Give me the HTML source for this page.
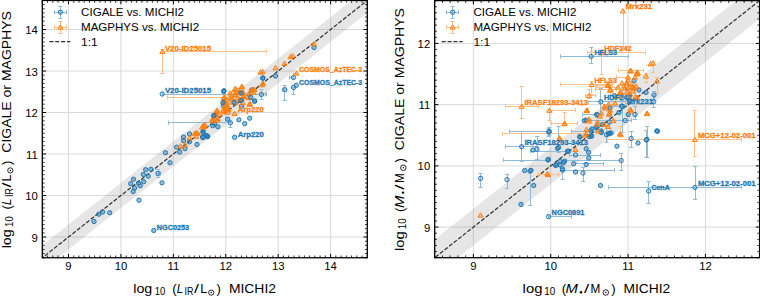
<!DOCTYPE html><html><head><meta charset="utf-8"><style>
html,body{margin:0;padding:0;background:#fff;width:760px;height:300px;overflow:hidden}
svg{display:block;font-family:"Liberation Sans",sans-serif}
.tl{font-size:11.3px;fill:#000}
.lg{font-size:11.6px;fill:#000}
.lab{font-size:7px;font-weight:bold}
.ax{font-size:13.2px;fill:#000}
</style></head><body>
<svg width="760" height="300" viewBox="0 0 760 300">
<clipPath id="cl"><rect x="42.3" y="0.45" width="325" height="257.3"/></clipPath>
<path d="M68.51 0.45V257.75M120.93 0.45V257.75M173.35 0.45V257.75M225.77 0.45V257.75M278.19 0.45V257.75M330.61 0.45V257.75M42.3 237H367.3M42.3 195.5H367.3M42.3 154H367.3M42.3 112.5H367.3M42.3 71H367.3M42.3 29.5H367.3" stroke="#dadada" stroke-width="1" fill="none"/>
<g clip-path="url(#cl)"><path d="M-10.12 286.8 L419.72 -53.5 L419.72 -28.6 L-10.12 311.7Z" fill="#808080" fill-opacity="0.2"/>
<path d="M-10.12 299.25L419.72 -41.05" stroke="#333" stroke-width="1.25" stroke-dasharray="4.1 1.75" fill="none"/></g>
<clipPath id="cr"><rect x="434.7" y="0.6" width="324.9" height="257.1"/></clipPath>
<path d="M473.38 0.6V257.7M550.74 0.6V257.7M628.09 0.6V257.7M705.45 0.6V257.7M434.7 227.09H759.6M434.7 165.88H759.6M434.7 104.66H759.6M434.7 43.45H759.6" stroke="#dadada" stroke-width="1" fill="none"/>
<g clip-path="url(#cr)"><path d="M357.34 300.55 L836.96 -78.98 L836.96 -42.25 L357.34 337.28Z" fill="#808080" fill-opacity="0.2"/>
<path d="M357.34 318.91L836.96 -60.61" stroke="#333" stroke-width="1.25" stroke-dasharray="4.1 1.75" fill="none"/></g>
<g clip-path="url(#cl)">
<path d="M156 173.5H160M156.5 171.45v4.1M160.5 171.45v4.1M158.5 169.2V177.8M155.95 169.5h4.1M155.95 177.5h4.1" stroke="#8fbbd9" stroke-width="1" fill="none"/>
<path d="M168.2 122.5H230.4M168.5 120.75v4.1M230.5 120.75v4.1M230.5 122.8V127.2M228.35 122.5h4.1M228.35 127.5h4.1" stroke="#8fbbd9" stroke-width="1" fill="none"/>
<path d="M261.5 94.5H265.7M261.5 92.45v4.1M265.5 92.45v4.1M261.5 89.7V99.5M259.45 89.5h4.1M259.45 99.5h4.1" stroke="#8fbbd9" stroke-width="1" fill="none"/>
<path d="M289.7 77.5H293.5M289.5 75.45v4.1M293.5 75.45v4.1" stroke="#8fbbd9" stroke-width="1" fill="none"/>
<path d="M282.8 89.5H286.8M282.5 87.65v4.1M286.5 87.65v4.1M284.5 85.2V100.2M282.75 85.5h4.1M282.75 100.5h4.1" stroke="#8fbbd9" stroke-width="1" fill="none"/>
<path d="M293.5 87.5V94.2M291.45 87.5h4.1M291.45 94.5h4.1" stroke="#8fbbd9" stroke-width="1" fill="none"/>
<path d="M162.2 94.5H266M162.5 91.95v4.1M266.5 91.95v4.1" stroke="#8fbbd9" stroke-width="1" fill="none"/>
<path d="M167.5 97.5H231.5M167.5 95.45v4.1M231.5 95.45v4.1" stroke="#ffbf86" stroke-width="1" fill="none"/>
<path d="M293 73.5H296.5M293.5 70.95v4.1M296.5 70.95v4.1" stroke="#ffbf86" stroke-width="1" fill="none"/>
<path d="M162.4 51.5H266.2M162.5 49.35v4.1M266.5 49.35v4.1M162.5 49.4V73M160.35 49.5h4.1M160.35 73.5h4.1" stroke="#ffbf86" stroke-width="1" fill="none"/>
<circle cx="94" cy="221.5" r="2.15" fill="rgba(31,119,180,0.45)" stroke="#1f77b4" stroke-width="1.0"/>
<circle cx="98.8" cy="214.2" r="2.15" fill="rgba(31,119,180,0.45)" stroke="#1f77b4" stroke-width="1.0"/>
<circle cx="102.7" cy="212" r="2.15" fill="rgba(31,119,180,0.45)" stroke="#1f77b4" stroke-width="1.0"/>
<circle cx="109.7" cy="212.7" r="2.15" fill="rgba(31,119,180,0.45)" stroke="#1f77b4" stroke-width="1.0"/>
<circle cx="139" cy="200.2" r="2.15" fill="rgba(31,119,180,0.45)" stroke="#1f77b4" stroke-width="1.0"/>
<circle cx="170" cy="162.7" r="2.15" fill="rgba(31,119,180,0.45)" stroke="#1f77b4" stroke-width="1.0"/>
<circle cx="145.7" cy="169.7" r="2.15" fill="rgba(31,119,180,0.45)" stroke="#1f77b4" stroke-width="1.0"/>
<circle cx="150.9" cy="169.3" r="2.15" fill="rgba(31,119,180,0.45)" stroke="#1f77b4" stroke-width="1.0"/>
<circle cx="143.3" cy="174.5" r="2.15" fill="rgba(31,119,180,0.45)" stroke="#1f77b4" stroke-width="1.0"/>
<circle cx="148.2" cy="176.2" r="2.15" fill="rgba(31,119,180,0.45)" stroke="#1f77b4" stroke-width="1.0"/>
<circle cx="158" cy="173.5" r="2.15" fill="rgba(31,119,180,0.18)" stroke="#1f77b4" stroke-width="1.0"/>
<circle cx="133.5" cy="179.2" r="2.15" fill="rgba(31,119,180,0.45)" stroke="#1f77b4" stroke-width="1.0"/>
<circle cx="130.7" cy="183.7" r="2.15" fill="rgba(31,119,180,0.45)" stroke="#1f77b4" stroke-width="1.0"/>
<circle cx="138.5" cy="183.2" r="2.15" fill="rgba(31,119,180,0.45)" stroke="#1f77b4" stroke-width="1.0"/>
<circle cx="143.7" cy="181.7" r="2.15" fill="rgba(31,119,180,0.45)" stroke="#1f77b4" stroke-width="1.0"/>
<circle cx="140.3" cy="185.8" r="2.15" fill="rgba(31,119,180,0.45)" stroke="#1f77b4" stroke-width="1.0"/>
<circle cx="134.7" cy="188" r="2.15" fill="rgba(31,119,180,0.45)" stroke="#1f77b4" stroke-width="1.0"/>
<circle cx="133.2" cy="191.5" r="2.15" fill="rgba(31,119,180,0.45)" stroke="#1f77b4" stroke-width="1.0"/>
<circle cx="162" cy="182.8" r="2.15" fill="rgba(31,119,180,0.45)" stroke="#1f77b4" stroke-width="1.0"/>
<circle cx="165.5" cy="152.7" r="2.15" fill="rgba(31,119,180,0.45)" stroke="#1f77b4" stroke-width="1.0"/>
<circle cx="176.7" cy="147.2" r="2.15" fill="rgba(31,119,180,0.45)" stroke="#1f77b4" stroke-width="1.0"/>
<circle cx="179.7" cy="152" r="2.15" fill="rgba(31,119,180,0.45)" stroke="#1f77b4" stroke-width="1.0"/>
<circle cx="185" cy="148.7" r="2.15" fill="rgba(31,119,180,0.45)" stroke="#1f77b4" stroke-width="1.0"/>
<circle cx="183.5" cy="137" r="2.15" fill="rgba(31,119,180,0.45)" stroke="#1f77b4" stroke-width="1.0"/>
<circle cx="183.5" cy="140.7" r="2.15" fill="rgba(31,119,180,0.45)" stroke="#1f77b4" stroke-width="1.0"/>
<circle cx="189.5" cy="134" r="2.15" fill="rgba(31,119,180,0.45)" stroke="#1f77b4" stroke-width="1.0"/>
<circle cx="189.5" cy="141.8" r="2.15" fill="rgba(31,119,180,0.45)" stroke="#1f77b4" stroke-width="1.0"/>
<circle cx="197" cy="144.5" r="2.15" fill="rgba(31,119,180,0.45)" stroke="#1f77b4" stroke-width="1.0"/>
<circle cx="203" cy="132.5" r="2.15" fill="rgba(31,119,180,0.45)" stroke="#1f77b4" stroke-width="1.0"/>
<circle cx="203" cy="137.7" r="2.15" fill="rgba(31,119,180,0.45)" stroke="#1f77b4" stroke-width="1.0"/>
<circle cx="207.5" cy="136.2" r="2.15" fill="rgba(31,119,180,0.45)" stroke="#1f77b4" stroke-width="1.0"/>
<circle cx="212.7" cy="125.7" r="2.15" fill="rgba(31,119,180,0.45)" stroke="#1f77b4" stroke-width="1.0"/>
<circle cx="203.2" cy="131" r="2.15" fill="rgba(31,119,180,0.45)" stroke="#1f77b4" stroke-width="1.0"/>
<circle cx="206.2" cy="135.5" r="2.15" fill="rgba(31,119,180,0.45)" stroke="#1f77b4" stroke-width="1.0"/>
<circle cx="202.5" cy="137" r="2.15" fill="rgba(31,119,180,0.45)" stroke="#1f77b4" stroke-width="1.0"/>
<circle cx="207.7" cy="136.7" r="2.15" fill="rgba(31,119,180,0.45)" stroke="#1f77b4" stroke-width="1.0"/>
<circle cx="213.7" cy="116" r="2.15" fill="rgba(31,119,180,0.45)" stroke="#1f77b4" stroke-width="1.0"/>
<circle cx="214.5" cy="123.5" r="2.15" fill="rgba(31,119,180,0.45)" stroke="#1f77b4" stroke-width="1.0"/>
<circle cx="217.8" cy="126.8" r="2.15" fill="rgba(31,119,180,0.45)" stroke="#1f77b4" stroke-width="1.0"/>
<circle cx="223.5" cy="105.5" r="2.15" fill="rgba(31,119,180,0.45)" stroke="#1f77b4" stroke-width="1.0"/>
<circle cx="224" cy="90.7" r="2.15" fill="rgba(31,119,180,0.45)" stroke="#1f77b4" stroke-width="1.0"/>
<circle cx="227.6" cy="119.2" r="2.15" fill="rgba(31,119,180,0.45)" stroke="#1f77b4" stroke-width="1.0"/>
<circle cx="230.4" cy="122.8" r="2.15" fill="rgba(31,119,180,0.18)" stroke="#1f77b4" stroke-width="1.0"/>
<circle cx="238.9" cy="119.8" r="2.15" fill="rgba(31,119,180,0.45)" stroke="#1f77b4" stroke-width="1.0"/>
<circle cx="244.7" cy="123.6" r="2.15" fill="rgba(31,119,180,0.45)" stroke="#1f77b4" stroke-width="1.0"/>
<circle cx="249.7" cy="118.2" r="2.15" fill="rgba(31,119,180,0.45)" stroke="#1f77b4" stroke-width="1.0"/>
<circle cx="241.5" cy="106.2" r="2.15" fill="rgba(31,119,180,0.45)" stroke="#1f77b4" stroke-width="1.0"/>
<circle cx="234.6" cy="137.3" r="2.15" fill="rgba(31,119,180,0.45)" stroke="#1f77b4" stroke-width="1.0"/>
<circle cx="251.7" cy="90" r="2.15" fill="rgba(31,119,180,0.45)" stroke="#1f77b4" stroke-width="1.0"/>
<circle cx="261.5" cy="94.5" r="2.15" fill="rgba(31,119,180,0.18)" stroke="#1f77b4" stroke-width="1.0"/>
<circle cx="254.8" cy="101.2" r="2.15" fill="rgba(31,119,180,0.45)" stroke="#1f77b4" stroke-width="1.0"/>
<circle cx="263" cy="78" r="2.15" fill="rgba(31,119,180,0.45)" stroke="#1f77b4" stroke-width="1.0"/>
<circle cx="275.5" cy="76" r="2.15" fill="rgba(31,119,180,0.45)" stroke="#1f77b4" stroke-width="1.0"/>
<circle cx="262.7" cy="78.2" r="2.15" fill="rgba(31,119,180,0.45)" stroke="#1f77b4" stroke-width="1.0"/>
<circle cx="293.5" cy="77.5" r="2.15" fill="rgba(31,119,180,0.18)" stroke="#1f77b4" stroke-width="1.0"/>
<circle cx="284.8" cy="89.7" r="2.15" fill="rgba(31,119,180,0.18)" stroke="#1f77b4" stroke-width="1.0"/>
<circle cx="293.5" cy="87.5" r="2.15" fill="rgba(31,119,180,0.18)" stroke="#1f77b4" stroke-width="1.0"/>
<circle cx="296.2" cy="85.3" r="2.15" fill="rgba(31,119,180,0.45)" stroke="#1f77b4" stroke-width="1.0"/>
<circle cx="254.5" cy="101" r="2.15" fill="rgba(31,119,180,0.45)" stroke="#1f77b4" stroke-width="1.0"/>
<circle cx="314" cy="47.5" r="2.15" fill="rgba(31,119,180,0.45)" stroke="#1f77b4" stroke-width="1.0"/>
<circle cx="162.2" cy="94" r="2.15" fill="rgba(31,119,180,0.18)" stroke="#1f77b4" stroke-width="1.0"/>
<circle cx="153.8" cy="230.5" r="2.15" fill="rgba(31,119,180,0.45)" stroke="#1f77b4" stroke-width="1.0"/>
<path d="M180.5 143.8L183.05 148.1L177.95 148.1Z" fill="rgba(255,127,14,0.4)" stroke="#ff7f0e" stroke-width="1.0" stroke-linejoin="round"/>
<path d="M185 142.3L187.55 146.6L182.45 146.6Z" fill="rgba(255,127,14,0.4)" stroke="#ff7f0e" stroke-width="1.0" stroke-linejoin="round"/>
<path d="M189.5 135.5L192.05 139.8L186.95 139.8Z" fill="rgba(255,127,14,0.4)" stroke="#ff7f0e" stroke-width="1.0" stroke-linejoin="round"/>
<path d="M194.7 131L197.25 135.3L192.15 135.3Z" fill="rgba(255,127,14,0.4)" stroke="#ff7f0e" stroke-width="1.0" stroke-linejoin="round"/>
<path d="M197.7 131L200.25 135.3L195.15 135.3Z" fill="rgba(255,127,14,0.4)" stroke="#ff7f0e" stroke-width="1.0" stroke-linejoin="round"/>
<path d="M196.2 134L198.75 138.3L193.65 138.3Z" fill="rgba(255,127,14,0.4)" stroke="#ff7f0e" stroke-width="1.0" stroke-linejoin="round"/>
<path d="M204.5 124.3L207.05 128.6L201.95 128.6Z" fill="rgba(255,127,14,0.4)" stroke="#ff7f0e" stroke-width="1.0" stroke-linejoin="round"/>
<path d="M196.5 130.3L199.05 134.6L193.95 134.6Z" fill="rgba(255,127,14,0.4)" stroke="#ff7f0e" stroke-width="1.0" stroke-linejoin="round"/>
<path d="M203.6 123L206.15 127.3L201.05 127.3Z" fill="rgba(255,127,14,0.4)" stroke="#ff7f0e" stroke-width="1.0" stroke-linejoin="round"/>
<path d="M212.8 118.6L215.35 122.9L210.25 122.9Z" fill="rgba(255,127,14,0.4)" stroke="#ff7f0e" stroke-width="1.0" stroke-linejoin="round"/>
<path d="M217.2 117.8L219.75 122.1L214.65 122.1Z" fill="rgba(255,127,14,0.4)" stroke="#ff7f0e" stroke-width="1.0" stroke-linejoin="round"/>
<path d="M216 112.3L218.55 116.6L213.45 116.6Z" fill="rgba(255,127,14,0.4)" stroke="#ff7f0e" stroke-width="1.0" stroke-linejoin="round"/>
<path d="M217.2 109L219.75 113.3L214.65 113.3Z" fill="rgba(255,127,14,0.4)" stroke="#ff7f0e" stroke-width="1.0" stroke-linejoin="round"/>
<path d="M224.2 109.3L226.75 113.6L221.65 113.6Z" fill="rgba(255,127,14,0.4)" stroke="#ff7f0e" stroke-width="1.0" stroke-linejoin="round"/>
<path d="M228 109.8L230.55 114.1L225.45 114.1Z" fill="rgba(255,127,14,0.4)" stroke="#ff7f0e" stroke-width="1.0" stroke-linejoin="round"/>
<path d="M225.7 106.3L228.25 110.6L223.15 110.6Z" fill="rgba(255,127,14,0.4)" stroke="#ff7f0e" stroke-width="1.0" stroke-linejoin="round"/>
<path d="M228.7 107L231.25 111.3L226.15 111.3Z" fill="rgba(255,127,14,0.4)" stroke="#ff7f0e" stroke-width="1.0" stroke-linejoin="round"/>
<path d="M223.5 99.5L226.05 103.8L220.95 103.8Z" fill="rgba(255,127,14,0.4)" stroke="#ff7f0e" stroke-width="1.0" stroke-linejoin="round"/>
<path d="M225.5 102L228.05 106.3L222.95 106.3Z" fill="rgba(255,127,14,0.4)" stroke="#ff7f0e" stroke-width="1.0" stroke-linejoin="round"/>
<path d="M227 105L229.55 109.3L224.45 109.3Z" fill="rgba(255,127,14,0.4)" stroke="#ff7f0e" stroke-width="1.0" stroke-linejoin="round"/>
<path d="M225 97.3L227.55 101.6L222.45 101.6Z" fill="rgba(255,127,14,0.4)" stroke="#ff7f0e" stroke-width="1.0" stroke-linejoin="round"/>
<path d="M224 95.3L226.55 99.6L221.45 99.6Z" fill="rgba(255,127,14,0.4)" stroke="#ff7f0e" stroke-width="1.0" stroke-linejoin="round"/>
<path d="M231.5 95.3L234.05 99.6L228.95 99.6Z" fill="rgba(255,127,14,0.18)" stroke="#ff7f0e" stroke-width="1.0" stroke-linejoin="round"/>
<path d="M236 92.3L238.55 96.6L233.45 96.6Z" fill="rgba(255,127,14,0.4)" stroke="#ff7f0e" stroke-width="1.0" stroke-linejoin="round"/>
<path d="M235.2 86.3L237.75 90.6L232.65 90.6Z" fill="rgba(255,127,14,0.4)" stroke="#ff7f0e" stroke-width="1.0" stroke-linejoin="round"/>
<path d="M242 84L244.55 88.3L239.45 88.3Z" fill="rgba(255,127,14,0.4)" stroke="#ff7f0e" stroke-width="1.0" stroke-linejoin="round"/>
<path d="M242 90.8L244.55 95.1L239.45 95.1Z" fill="rgba(255,127,14,0.4)" stroke="#ff7f0e" stroke-width="1.0" stroke-linejoin="round"/>
<path d="M239.7 96.8L242.25 101.1L237.15 101.1Z" fill="rgba(255,127,14,0.4)" stroke="#ff7f0e" stroke-width="1.0" stroke-linejoin="round"/>
<path d="M243.7 94.3L246.25 98.6L241.15 98.6Z" fill="rgba(255,127,14,0.4)" stroke="#ff7f0e" stroke-width="1.0" stroke-linejoin="round"/>
<path d="M248.7 91.5L251.25 95.8L246.15 95.8Z" fill="rgba(255,127,14,0.4)" stroke="#ff7f0e" stroke-width="1.0" stroke-linejoin="round"/>
<path d="M253.2 87L255.75 91.3L250.65 91.3Z" fill="rgba(255,127,14,0.4)" stroke="#ff7f0e" stroke-width="1.0" stroke-linejoin="round"/>
<path d="M235.2 100.5L237.75 104.8L232.65 104.8Z" fill="rgba(255,127,14,0.4)" stroke="#ff7f0e" stroke-width="1.0" stroke-linejoin="round"/>
<path d="M242.7 100.5L245.25 104.8L240.15 104.8Z" fill="rgba(255,127,14,0.4)" stroke="#ff7f0e" stroke-width="1.0" stroke-linejoin="round"/>
<path d="M249.5 102L252.05 106.3L246.95 106.3Z" fill="rgba(255,127,14,0.4)" stroke="#ff7f0e" stroke-width="1.0" stroke-linejoin="round"/>
<path d="M234.6 111.1L237.15 115.4L232.05 115.4Z" fill="rgba(255,127,14,0.4)" stroke="#ff7f0e" stroke-width="1.0" stroke-linejoin="round"/>
<path d="M263 81L265.55 85.3L260.45 85.3Z" fill="rgba(255,127,14,0.4)" stroke="#ff7f0e" stroke-width="1.0" stroke-linejoin="round"/>
<path d="M251.5 88.3L254.05 92.6L248.95 92.6Z" fill="rgba(255,127,14,0.4)" stroke="#ff7f0e" stroke-width="1.0" stroke-linejoin="round"/>
<path d="M212.2 117.5L214.75 121.8L209.65 121.8Z" fill="rgba(255,127,14,0.4)" stroke="#ff7f0e" stroke-width="1.0" stroke-linejoin="round"/>
<path d="M262.7 69.3L265.25 73.6L260.15 73.6Z" fill="rgba(255,127,14,0.4)" stroke="#ff7f0e" stroke-width="1.0" stroke-linejoin="round"/>
<path d="M260.5 69.8L263.05 74.1L257.95 74.1Z" fill="rgba(255,127,14,0.4)" stroke="#ff7f0e" stroke-width="1.0" stroke-linejoin="round"/>
<path d="M275.5 65.5L278.05 69.8L272.95 69.8Z" fill="rgba(255,127,14,0.4)" stroke="#ff7f0e" stroke-width="1.0" stroke-linejoin="round"/>
<path d="M284.5 61L287.05 65.3L281.95 65.3Z" fill="rgba(255,127,14,0.4)" stroke="#ff7f0e" stroke-width="1.0" stroke-linejoin="round"/>
<path d="M292.7 53.5L295.25 57.8L290.15 57.8Z" fill="rgba(255,127,14,0.4)" stroke="#ff7f0e" stroke-width="1.0" stroke-linejoin="round"/>
<path d="M290.5 54.3L293.05 58.6L287.95 58.6Z" fill="rgba(255,127,14,0.4)" stroke="#ff7f0e" stroke-width="1.0" stroke-linejoin="round"/>
<path d="M296.5 70.8L299.05 75.1L293.95 75.1Z" fill="rgba(255,127,14,0.18)" stroke="#ff7f0e" stroke-width="1.0" stroke-linejoin="round"/>
<path d="M314 41.5L316.55 45.8L311.45 45.8Z" fill="rgba(255,127,14,0.4)" stroke="#ff7f0e" stroke-width="1.0" stroke-linejoin="round"/>
<path d="M162.4 49.2L164.95 53.5L159.85 53.5Z" fill="rgba(255,127,14,0.18)" stroke="#ff7f0e" stroke-width="1.0" stroke-linejoin="round"/>
<path d="M235.7 87L238.25 91.3L233.15 91.3Z" fill="rgba(255,127,14,0.4)" stroke="#ff7f0e" stroke-width="1.0" stroke-linejoin="round"/>
<path d="M241.7 84.8L244.25 89.1L239.15 89.1Z" fill="rgba(255,127,14,0.4)" stroke="#ff7f0e" stroke-width="1.0" stroke-linejoin="round"/>
<path d="M239.5 90L242.05 94.3L236.95 94.3Z" fill="rgba(255,127,14,0.4)" stroke="#ff7f0e" stroke-width="1.0" stroke-linejoin="round"/>
<path d="M235 92.3L237.55 96.6L232.45 96.6Z" fill="rgba(255,127,14,0.4)" stroke="#ff7f0e" stroke-width="1.0" stroke-linejoin="round"/>
<path d="M244 93.8L246.55 98.1L241.45 98.1Z" fill="rgba(255,127,14,0.4)" stroke="#ff7f0e" stroke-width="1.0" stroke-linejoin="round"/>
<path d="M237.2 96L239.75 100.3L234.65 100.3Z" fill="rgba(255,127,14,0.4)" stroke="#ff7f0e" stroke-width="1.0" stroke-linejoin="round"/>
<path d="M241.7 96.8L244.25 101.1L239.15 101.1Z" fill="rgba(255,127,14,0.4)" stroke="#ff7f0e" stroke-width="1.0" stroke-linejoin="round"/>
<path d="M232.7 96.8L235.25 101.1L230.15 101.1Z" fill="rgba(255,127,14,0.4)" stroke="#ff7f0e" stroke-width="1.0" stroke-linejoin="round"/>
<path d="M229.7 95.3L232.25 99.6L227.15 99.6Z" fill="rgba(255,127,14,0.4)" stroke="#ff7f0e" stroke-width="1.0" stroke-linejoin="round"/>
<path d="M224.5 94.5L227.05 98.8L221.95 98.8Z" fill="rgba(255,127,14,0.4)" stroke="#ff7f0e" stroke-width="1.0" stroke-linejoin="round"/>
<path d="M225.2 99.8L227.75 104.1L222.65 104.1Z" fill="rgba(255,127,14,0.4)" stroke="#ff7f0e" stroke-width="1.0" stroke-linejoin="round"/>
<path d="M227.5 102.8L230.05 107.1L224.95 107.1Z" fill="rgba(255,127,14,0.4)" stroke="#ff7f0e" stroke-width="1.0" stroke-linejoin="round"/>
<path d="M224.5 104.3L227.05 108.6L221.95 108.6Z" fill="rgba(255,127,14,0.4)" stroke="#ff7f0e" stroke-width="1.0" stroke-linejoin="round"/>
<path d="M226.7 107.3L229.25 111.6L224.15 111.6Z" fill="rgba(255,127,14,0.4)" stroke="#ff7f0e" stroke-width="1.0" stroke-linejoin="round"/>
<path d="M223 108L225.55 112.3L220.45 112.3Z" fill="rgba(255,127,14,0.4)" stroke="#ff7f0e" stroke-width="1.0" stroke-linejoin="round"/>
<path d="M217 108L219.55 112.3L214.45 112.3Z" fill="rgba(255,127,14,0.4)" stroke="#ff7f0e" stroke-width="1.0" stroke-linejoin="round"/>
<path d="M215.5 111L218.05 115.3L212.95 115.3Z" fill="rgba(255,127,14,0.4)" stroke="#ff7f0e" stroke-width="1.0" stroke-linejoin="round"/>
<path d="M219.2 111.8L221.75 116.1L216.65 116.1Z" fill="rgba(255,127,14,0.4)" stroke="#ff7f0e" stroke-width="1.0" stroke-linejoin="round"/>
<path d="M250 101.3L252.55 105.6L247.45 105.6Z" fill="rgba(255,127,14,0.4)" stroke="#ff7f0e" stroke-width="1.0" stroke-linejoin="round"/>
<path d="M251.5 87.8L254.05 92.1L248.95 92.1Z" fill="rgba(255,127,14,0.4)" stroke="#ff7f0e" stroke-width="1.0" stroke-linejoin="round"/>
<path d="M254.5 87L257.05 91.3L251.95 91.3Z" fill="rgba(255,127,14,0.4)" stroke="#ff7f0e" stroke-width="1.0" stroke-linejoin="round"/>
<path d="M253.7 90L256.25 94.3L251.15 94.3Z" fill="rgba(255,127,14,0.4)" stroke="#ff7f0e" stroke-width="1.0" stroke-linejoin="round"/>
<path d="M262 82.5L264.55 86.8L259.45 86.8Z" fill="rgba(255,127,14,0.4)" stroke="#ff7f0e" stroke-width="1.0" stroke-linejoin="round"/>
<path d="M248.5 95.3L251.05 99.6L245.95 99.6Z" fill="rgba(255,127,14,0.4)" stroke="#ff7f0e" stroke-width="1.0" stroke-linejoin="round"/>
<path d="M229.7 99.8L232.25 104.1L227.15 104.1Z" fill="rgba(255,127,14,0.4)" stroke="#ff7f0e" stroke-width="1.0" stroke-linejoin="round"/>
<path d="M214 115.5L216.55 119.8L211.45 119.8Z" fill="rgba(255,127,14,0.4)" stroke="#ff7f0e" stroke-width="1.0" stroke-linejoin="round"/>
<path d="M217.7 116.3L220.25 120.6L215.15 120.6Z" fill="rgba(255,127,14,0.4)" stroke="#ff7f0e" stroke-width="1.0" stroke-linejoin="round"/>
<path d="M238.5 87.8L241.05 92.1L235.95 92.1Z" fill="rgba(255,127,14,0.4)" stroke="#ff7f0e" stroke-width="1.0" stroke-linejoin="round"/>
<path d="M243 89.8L245.55 94.1L240.45 94.1Z" fill="rgba(255,127,14,0.4)" stroke="#ff7f0e" stroke-width="1.0" stroke-linejoin="round"/>
<path d="M233 89.8L235.55 94.1L230.45 94.1Z" fill="rgba(255,127,14,0.4)" stroke="#ff7f0e" stroke-width="1.0" stroke-linejoin="round"/>
<path d="M230 90.8L232.55 95.1L227.45 95.1Z" fill="rgba(255,127,14,0.4)" stroke="#ff7f0e" stroke-width="1.0" stroke-linejoin="round"/>
<path d="M202 124.8L204.55 129.1L199.45 129.1Z" fill="rgba(255,127,14,0.4)" stroke="#ff7f0e" stroke-width="1.0" stroke-linejoin="round"/>
<path d="M205 122.3L207.55 126.6L202.45 126.6Z" fill="rgba(255,127,14,0.4)" stroke="#ff7f0e" stroke-width="1.0" stroke-linejoin="round"/>
<circle cx="223.7" cy="91.5" r="2.15" fill="rgba(31,119,180,0.45)" stroke="#1f77b4" stroke-width="1.0"/>
<circle cx="241" cy="93" r="2.15" fill="rgba(31,119,180,0.45)" stroke="#1f77b4" stroke-width="1.0"/>
<circle cx="241" cy="100.5" r="2.15" fill="rgba(31,119,180,0.45)" stroke="#1f77b4" stroke-width="1.0"/>
<circle cx="234.2" cy="102.5" r="2.15" fill="rgba(31,119,180,0.45)" stroke="#1f77b4" stroke-width="1.0"/>
<circle cx="250.7" cy="97.5" r="2.15" fill="rgba(31,119,180,0.45)" stroke="#1f77b4" stroke-width="1.0"/>
<circle cx="223" cy="102.5" r="2.15" fill="rgba(31,119,180,0.45)" stroke="#1f77b4" stroke-width="1.0"/>
<circle cx="214" cy="115.5" r="2.15" fill="rgba(31,119,180,0.45)" stroke="#1f77b4" stroke-width="1.0"/>
</g>
<g clip-path="url(#cr)">
<path d="M560.2 56.5H628.2M560.5 54.35v4.1M628.5 54.35v4.1M591.5 47.7V63M589.15 47.5h4.1M589.15 63.5h4.1" stroke="#8fbbd9" stroke-width="1" fill="none"/>
<path d="M588.8 101.5H625.8M588.5 99.75v4.1M625.5 99.75v4.1M600.5 88.8V113.8M598.75 88.5h4.1M598.75 113.5h4.1" stroke="#8fbbd9" stroke-width="1" fill="none"/>
<path d="M622.5 100.5V132.5M620.45 100.5h4.1M620.45 132.5h4.1" stroke="#8fbbd9" stroke-width="1" fill="none"/>
<path d="M653.5 95V107.7M651.65 95.5h4.1M651.65 107.5h4.1" stroke="#8fbbd9" stroke-width="1" fill="none"/>
<path d="M654.5 91V100M651.95 91.5h4.1M651.95 100.5h4.1" stroke="#8fbbd9" stroke-width="1" fill="none"/>
<path d="M635.5 106.5V119.5M632.95 106.5h4.1M632.95 119.5h4.1" stroke="#8fbbd9" stroke-width="1" fill="none"/>
<path d="M585.2 120.5H631.2M585.5 118.45v4.1M631.5 118.45v4.1" stroke="#8fbbd9" stroke-width="1" fill="none"/>
<path d="M582.7 114.5H596.7M582.5 112.45v4.1M596.5 112.45v4.1" stroke="#8fbbd9" stroke-width="1" fill="none"/>
<path d="M609.5 116V128M607.45 116.5h4.1M607.45 128.5h4.1" stroke="#8fbbd9" stroke-width="1" fill="none"/>
<path d="M571.2 131.5H601.2M571.5 128.95v4.1M601.5 128.95v4.1" stroke="#8fbbd9" stroke-width="1" fill="none"/>
<path d="M606.5 126.7V142.7M604.45 126.5h4.1M604.45 142.5h4.1" stroke="#8fbbd9" stroke-width="1" fill="none"/>
<path d="M631.5 131.5V147.5M629.15 131.5h4.1M629.15 147.5h4.1" stroke="#8fbbd9" stroke-width="1" fill="none"/>
<path d="M646.5 130V157.5M644.15 130.5h4.1M644.15 157.5h4.1" stroke="#8fbbd9" stroke-width="1" fill="none"/>
<path d="M608.5 106.5H624.5M608.5 104.15v4.1M624.5 104.15v4.1" stroke="#8fbbd9" stroke-width="1" fill="none"/>
<path d="M530.7 151.5H568.7M530.5 149.15v4.1M568.5 149.15v4.1" stroke="#8fbbd9" stroke-width="1" fill="none"/>
<path d="M569.5 155.5H600.5M569.5 152.95v4.1M600.5 152.95v4.1" stroke="#8fbbd9" stroke-width="1" fill="none"/>
<path d="M573.7 163.5H603.7M573.5 161.65v4.1M603.5 161.65v4.1" stroke="#8fbbd9" stroke-width="1" fill="none"/>
<path d="M562.5 170.5H614.5M562.5 167.95v4.1M614.5 167.95v4.1" stroke="#8fbbd9" stroke-width="1" fill="none"/>
<path d="M583.5 167V181M580.95 167.5h4.1M580.95 181.5h4.1" stroke="#8fbbd9" stroke-width="1" fill="none"/>
<path d="M566.2 160.5H621.2M566.5 158.45v4.1M621.5 158.45v4.1M621.5 153.7V170M619.15 153.5h4.1M619.15 170.5h4.1" stroke="#8fbbd9" stroke-width="1" fill="none"/>
<path d="M648.5 181.4V203.5M646.65 181.5h4.1M646.65 203.5h4.1" stroke="#8fbbd9" stroke-width="1" fill="none"/>
<path d="M608 187.5H741.1M608.5 185.35v4.1M741.5 185.35v4.1M695.5 166.7V199.2M692.95 166.5h4.1M692.95 199.5h4.1" stroke="#8fbbd9" stroke-width="1" fill="none"/>
<path d="M647.5 126.5V157.2M644.95 126.5h4.1M644.95 157.5h4.1" stroke="#8fbbd9" stroke-width="1" fill="none"/>
<path d="M505.6 146.5H537.5M505.5 144.65v4.1M537.5 144.65v4.1M521.5 131.2V161.2M519.65 131.5h4.1M519.65 161.5h4.1" stroke="#8fbbd9" stroke-width="1" fill="none"/>
<path d="M548.5 128V136M546.65 128.5h4.1M546.65 136.5h4.1" stroke="#8fbbd9" stroke-width="1" fill="none"/>
<path d="M537.5 136.4V159.2M534.95 136.5h4.1M534.95 159.5h4.1" stroke="#8fbbd9" stroke-width="1" fill="none"/>
<path d="M558.5 126V152.5M556.65 126.5h4.1M556.65 152.5h4.1" stroke="#8fbbd9" stroke-width="1" fill="none"/>
<path d="M503 160.5H548M503.5 157.95v4.1M548.5 157.95v4.1" stroke="#8fbbd9" stroke-width="1" fill="none"/>
<path d="M562.5 168.7V179.7M560.45 168.5h4.1M560.45 179.5h4.1" stroke="#8fbbd9" stroke-width="1" fill="none"/>
<path d="M530.5 171.1V205.1M527.95 171.5h4.1M527.95 205.5h4.1" stroke="#8fbbd9" stroke-width="1" fill="none"/>
<path d="M480.5 173.6V187.6M478.55 173.5h4.1M478.55 187.5h4.1" stroke="#8fbbd9" stroke-width="1" fill="none"/>
<path d="M507.5 174.4V188M504.95 174.5h4.1M504.95 188.5h4.1" stroke="#8fbbd9" stroke-width="1" fill="none"/>
<path d="M548.6 216.5H571M548.5 214.55v4.1M571.5 214.55v4.1" stroke="#8fbbd9" stroke-width="1" fill="none"/>
<path d="M509.3 131.5H549.3M509.5 129.45v4.1M549.5 129.45v4.1M549.5 127.5V135.5M547.25 127.5h4.1M547.25 135.5h4.1" stroke="#8fbbd9" stroke-width="1" fill="none"/>
<path d="M623.5 10.8V49.8M620.95 10.5h4.1M620.95 49.5h4.1" stroke="#ffbf86" stroke-width="1" fill="none"/>
<path d="M587.5 52.5H645.5M587.5 50.65v4.1M645.5 50.65v4.1M601.5 52.7V74.5M599.65 52.5h4.1M599.65 74.5h4.1" stroke="#ffbf86" stroke-width="1" fill="none"/>
<path d="M560.2 84.5H611.6M560.5 82.35v4.1M611.5 82.35v4.1M591.5 81.4V94.4M589.55 81.5h4.1M589.55 94.5h4.1" stroke="#ffbf86" stroke-width="1" fill="none"/>
<path d="M505.5 106.5H538.7M505.5 104.15v4.1M538.5 104.15v4.1M521.5 86.2V118M519.65 86.5h4.1M519.65 118.5h4.1" stroke="#ffbf86" stroke-width="1" fill="none"/>
<path d="M607.9 139.5H741.4M607.5 137.35v4.1M741.5 137.35v4.1M694.5 110.7V156.2M692.85 110.5h4.1M692.85 156.5h4.1" stroke="#ffbf86" stroke-width="1" fill="none"/>
<path d="M653.5 61V72M650.95 61.5h4.1M650.95 72.5h4.1" stroke="#ffbf86" stroke-width="1" fill="none"/>
<path d="M618.2 70.5H643M618.5 68.35v4.1M643.5 68.35v4.1" stroke="#ffbf86" stroke-width="1" fill="none"/>
<path d="M616 77.5H628M616.5 74.95v4.1M628.5 74.95v4.1" stroke="#ffbf86" stroke-width="1" fill="none"/>
<path d="M646.5 73V82M643.95 73.5h4.1M643.95 82.5h4.1" stroke="#ffbf86" stroke-width="1" fill="none"/>
<path d="M657.5 77V93M654.95 77.5h4.1M654.95 93.5h4.1" stroke="#ffbf86" stroke-width="1" fill="none"/>
<path d="M585 95.5H595M585.5 93.45v4.1M595.5 93.45v4.1M589.5 89.5V98M586.95 89.5h4.1M586.95 98.5h4.1" stroke="#ffbf86" stroke-width="1" fill="none"/>
<path d="M610.5 85V95M607.95 85.5h4.1M607.95 95.5h4.1" stroke="#ffbf86" stroke-width="1" fill="none"/>
<path d="M596 87.5H618M596.5 84.95v4.1M618.5 84.95v4.1" stroke="#ffbf86" stroke-width="1" fill="none"/>
<path d="M595.5 85.5H612.5M595.5 83.15v4.1M612.5 83.15v4.1M608.5 81.2V89.2M606.45 81.5h4.1M606.45 89.5h4.1" stroke="#ffbf86" stroke-width="1" fill="none"/>
<path d="M595.7 89.5H616.7M595.5 87.65v4.1M616.5 87.65v4.1" stroke="#ffbf86" stroke-width="1" fill="none"/>
<path d="M620.5 126.5V134.7M618.65 126.5h4.1M618.65 134.5h4.1" stroke="#ffbf86" stroke-width="1" fill="none"/>
<path d="M502.2 133.5H586.2M502.5 131.65v4.1M586.5 131.65v4.1" stroke="#ffbf86" stroke-width="1" fill="none"/>
<path d="M549.3 110.5H575.3M549.5 108.15v4.1M575.5 108.15v4.1M549.5 110.2V120.2M547.25 110.5h4.1M547.25 120.5h4.1" stroke="#ffbf86" stroke-width="1" fill="none"/>
<path d="M551.2 123.5H577.5M551.5 121.15v4.1M577.5 121.15v4.1M564.5 112V123.2M562.65 112.5h4.1M562.65 123.5h4.1" stroke="#ffbf86" stroke-width="1" fill="none"/>
<path d="M538 174.5H558M538.5 172.45v4.1M558.5 172.45v4.1" stroke="#ffbf86" stroke-width="1" fill="none"/>
<circle cx="591.2" cy="56.4" r="2.15" fill="rgba(31,119,180,0.18)" stroke="#1f77b4" stroke-width="1.0"/>
<circle cx="600.8" cy="101.8" r="2.15" fill="rgba(31,119,180,0.18)" stroke="#1f77b4" stroke-width="1.0"/>
<circle cx="622.5" cy="106.5" r="2.15" fill="rgba(31,119,180,0.18)" stroke="#1f77b4" stroke-width="1.0"/>
<circle cx="653.7" cy="101.7" r="2.15" fill="rgba(31,119,180,0.18)" stroke="#1f77b4" stroke-width="1.0"/>
<circle cx="634" cy="80.7" r="2.15" fill="rgba(31,119,180,0.45)" stroke="#1f77b4" stroke-width="1.0"/>
<circle cx="639" cy="90" r="2.15" fill="rgba(31,119,180,0.45)" stroke="#1f77b4" stroke-width="1.0"/>
<circle cx="646" cy="92.4" r="2.15" fill="rgba(31,119,180,0.45)" stroke="#1f77b4" stroke-width="1.0"/>
<circle cx="654" cy="95" r="2.15" fill="rgba(31,119,180,0.18)" stroke="#1f77b4" stroke-width="1.0"/>
<circle cx="628.2" cy="114.5" r="2.15" fill="rgba(31,119,180,0.45)" stroke="#1f77b4" stroke-width="1.0"/>
<circle cx="635" cy="114.5" r="2.15" fill="rgba(31,119,180,0.18)" stroke="#1f77b4" stroke-width="1.0"/>
<circle cx="625.2" cy="120.5" r="2.15" fill="rgba(31,119,180,0.18)" stroke="#1f77b4" stroke-width="1.0"/>
<circle cx="596.7" cy="114.5" r="2.15" fill="rgba(31,119,180,0.18)" stroke="#1f77b4" stroke-width="1.0"/>
<circle cx="609.5" cy="122" r="2.15" fill="rgba(31,119,180,0.18)" stroke="#1f77b4" stroke-width="1.0"/>
<circle cx="601.2" cy="131" r="2.15" fill="rgba(31,119,180,0.18)" stroke="#1f77b4" stroke-width="1.0"/>
<circle cx="609.5" cy="133.2" r="2.15" fill="rgba(31,119,180,0.45)" stroke="#1f77b4" stroke-width="1.0"/>
<circle cx="606.5" cy="134.7" r="2.15" fill="rgba(31,119,180,0.18)" stroke="#1f77b4" stroke-width="1.0"/>
<circle cx="596" cy="127.2" r="2.15" fill="rgba(31,119,180,0.45)" stroke="#1f77b4" stroke-width="1.0"/>
<circle cx="590.7" cy="131" r="2.15" fill="rgba(31,119,180,0.45)" stroke="#1f77b4" stroke-width="1.0"/>
<circle cx="631.2" cy="138.5" r="2.15" fill="rgba(31,119,180,0.18)" stroke="#1f77b4" stroke-width="1.0"/>
<circle cx="646.2" cy="140" r="2.15" fill="rgba(31,119,180,0.18)" stroke="#1f77b4" stroke-width="1.0"/>
<circle cx="621.5" cy="106.2" r="2.15" fill="rgba(31,119,180,0.18)" stroke="#1f77b4" stroke-width="1.0"/>
<circle cx="614.5" cy="95.7" r="2.15" fill="rgba(31,119,180,0.45)" stroke="#1f77b4" stroke-width="1.0"/>
<circle cx="597" cy="115" r="2.15" fill="rgba(31,119,180,0.45)" stroke="#1f77b4" stroke-width="1.0"/>
<circle cx="597" cy="127" r="2.15" fill="rgba(31,119,180,0.45)" stroke="#1f77b4" stroke-width="1.0"/>
<circle cx="584.2" cy="120.7" r="2.15" fill="rgba(31,119,180,0.45)" stroke="#1f77b4" stroke-width="1.0"/>
<circle cx="579.7" cy="136.7" r="2.15" fill="rgba(31,119,180,0.45)" stroke="#1f77b4" stroke-width="1.0"/>
<circle cx="591.7" cy="136" r="2.15" fill="rgba(31,119,180,0.45)" stroke="#1f77b4" stroke-width="1.0"/>
<circle cx="580" cy="137" r="2.15" fill="rgba(31,119,180,0.45)" stroke="#1f77b4" stroke-width="1.0"/>
<circle cx="591.2" cy="136.2" r="2.15" fill="rgba(31,119,180,0.45)" stroke="#1f77b4" stroke-width="1.0"/>
<circle cx="601.2" cy="132.5" r="2.15" fill="rgba(31,119,180,0.45)" stroke="#1f77b4" stroke-width="1.0"/>
<circle cx="608.7" cy="133.7" r="2.15" fill="rgba(31,119,180,0.45)" stroke="#1f77b4" stroke-width="1.0"/>
<circle cx="611.2" cy="133" r="2.15" fill="rgba(31,119,180,0.45)" stroke="#1f77b4" stroke-width="1.0"/>
<circle cx="617" cy="146.2" r="2.15" fill="rgba(31,119,180,0.45)" stroke="#1f77b4" stroke-width="1.0"/>
<circle cx="638" cy="143" r="2.15" fill="rgba(31,119,180,0.45)" stroke="#1f77b4" stroke-width="1.0"/>
<circle cx="657.5" cy="131.2" r="2.15" fill="rgba(31,119,180,0.45)" stroke="#1f77b4" stroke-width="1.0"/>
<circle cx="568.7" cy="151.2" r="2.15" fill="rgba(31,119,180,0.18)" stroke="#1f77b4" stroke-width="1.0"/>
<circle cx="575.5" cy="155" r="2.15" fill="rgba(31,119,180,0.18)" stroke="#1f77b4" stroke-width="1.0"/>
<circle cx="586.2" cy="148.7" r="2.15" fill="rgba(31,119,180,0.45)" stroke="#1f77b4" stroke-width="1.0"/>
<circle cx="588.7" cy="152.5" r="2.15" fill="rgba(31,119,180,0.45)" stroke="#1f77b4" stroke-width="1.0"/>
<circle cx="588.7" cy="158" r="2.15" fill="rgba(31,119,180,0.45)" stroke="#1f77b4" stroke-width="1.0"/>
<circle cx="586.2" cy="164.5" r="2.15" fill="rgba(31,119,180,0.45)" stroke="#1f77b4" stroke-width="1.0"/>
<circle cx="573.7" cy="163.7" r="2.15" fill="rgba(31,119,180,0.18)" stroke="#1f77b4" stroke-width="1.0"/>
<circle cx="563.7" cy="162.5" r="2.15" fill="rgba(31,119,180,0.45)" stroke="#1f77b4" stroke-width="1.0"/>
<circle cx="562.5" cy="170" r="2.15" fill="rgba(31,119,180,0.18)" stroke="#1f77b4" stroke-width="1.0"/>
<circle cx="575.5" cy="172" r="2.15" fill="rgba(31,119,180,0.45)" stroke="#1f77b4" stroke-width="1.0"/>
<circle cx="583" cy="173" r="2.15" fill="rgba(31,119,180,0.18)" stroke="#1f77b4" stroke-width="1.0"/>
<circle cx="621.2" cy="160.5" r="2.15" fill="rgba(31,119,180,0.18)" stroke="#1f77b4" stroke-width="1.0"/>
<circle cx="600.5" cy="185.5" r="2.15" fill="rgba(31,119,180,0.45)" stroke="#1f77b4" stroke-width="1.0"/>
<circle cx="648.7" cy="191" r="2.15" fill="rgba(31,119,180,0.18)" stroke="#1f77b4" stroke-width="1.0"/>
<circle cx="695" cy="187.4" r="2.15" fill="rgba(31,119,180,0.18)" stroke="#1f77b4" stroke-width="1.0"/>
<circle cx="647" cy="139.4" r="2.15" fill="rgba(31,119,180,0.18)" stroke="#1f77b4" stroke-width="1.0"/>
<circle cx="656.8" cy="131" r="2.15" fill="rgba(31,119,180,0.45)" stroke="#1f77b4" stroke-width="1.0"/>
<circle cx="521.7" cy="146.7" r="2.15" fill="rgba(31,119,180,0.18)" stroke="#1f77b4" stroke-width="1.0"/>
<circle cx="548.7" cy="132" r="2.15" fill="rgba(31,119,180,0.18)" stroke="#1f77b4" stroke-width="1.0"/>
<circle cx="533" cy="150" r="2.15" fill="rgba(31,119,180,0.45)" stroke="#1f77b4" stroke-width="1.0"/>
<circle cx="548.3" cy="159.3" r="2.15" fill="rgba(31,119,180,0.45)" stroke="#1f77b4" stroke-width="1.0"/>
<circle cx="557.5" cy="148.3" r="2.15" fill="rgba(31,119,180,0.45)" stroke="#1f77b4" stroke-width="1.0"/>
<circle cx="531" cy="170.3" r="2.15" fill="rgba(31,119,180,0.45)" stroke="#1f77b4" stroke-width="1.0"/>
<circle cx="537" cy="149.2" r="2.15" fill="rgba(31,119,180,0.18)" stroke="#1f77b4" stroke-width="1.0"/>
<circle cx="558.7" cy="147.5" r="2.15" fill="rgba(31,119,180,0.18)" stroke="#1f77b4" stroke-width="1.0"/>
<circle cx="548" cy="160" r="2.15" fill="rgba(31,119,180,0.18)" stroke="#1f77b4" stroke-width="1.0"/>
<circle cx="556.2" cy="165" r="2.15" fill="rgba(31,119,180,0.45)" stroke="#1f77b4" stroke-width="1.0"/>
<circle cx="560" cy="161.2" r="2.15" fill="rgba(31,119,180,0.45)" stroke="#1f77b4" stroke-width="1.0"/>
<circle cx="564.5" cy="161.2" r="2.15" fill="rgba(31,119,180,0.45)" stroke="#1f77b4" stroke-width="1.0"/>
<circle cx="560" cy="165" r="2.15" fill="rgba(31,119,180,0.45)" stroke="#1f77b4" stroke-width="1.0"/>
<circle cx="562.5" cy="168.7" r="2.15" fill="rgba(31,119,180,0.18)" stroke="#1f77b4" stroke-width="1.0"/>
<circle cx="524.7" cy="170.5" r="2.15" fill="rgba(31,119,180,0.45)" stroke="#1f77b4" stroke-width="1.0"/>
<circle cx="530" cy="171.1" r="2.15" fill="rgba(31,119,180,0.18)" stroke="#1f77b4" stroke-width="1.0"/>
<circle cx="480.6" cy="178.4" r="2.15" fill="rgba(31,119,180,0.18)" stroke="#1f77b4" stroke-width="1.0"/>
<circle cx="507" cy="179.6" r="2.15" fill="rgba(31,119,180,0.18)" stroke="#1f77b4" stroke-width="1.0"/>
<circle cx="533.7" cy="185.5" r="2.15" fill="rgba(31,119,180,0.45)" stroke="#1f77b4" stroke-width="1.0"/>
<circle cx="567.5" cy="151.2" r="2.15" fill="rgba(31,119,180,0.45)" stroke="#1f77b4" stroke-width="1.0"/>
<circle cx="521" cy="204.4" r="2.15" fill="rgba(31,119,180,0.45)" stroke="#1f77b4" stroke-width="1.0"/>
<circle cx="548.6" cy="216.6" r="2.15" fill="rgba(31,119,180,0.18)" stroke="#1f77b4" stroke-width="1.0"/>
<circle cx="549.3" cy="131.5" r="2.15" fill="rgba(31,119,180,0.18)" stroke="#1f77b4" stroke-width="1.0"/>
<circle cx="555.6" cy="165.4" r="2.15" fill="rgba(31,119,180,0.45)" stroke="#1f77b4" stroke-width="1.0"/>
<circle cx="586" cy="120" r="2.15" fill="rgba(31,119,180,0.45)" stroke="#1f77b4" stroke-width="1.0"/>
<circle cx="592" cy="129" r="2.15" fill="rgba(31,119,180,0.45)" stroke="#1f77b4" stroke-width="1.0"/>
<circle cx="602.5" cy="124.5" r="2.15" fill="rgba(31,119,180,0.45)" stroke="#1f77b4" stroke-width="1.0"/>
<circle cx="589" cy="136.5" r="2.15" fill="rgba(31,119,180,0.45)" stroke="#1f77b4" stroke-width="1.0"/>
<circle cx="610" cy="108" r="2.15" fill="rgba(31,119,180,0.45)" stroke="#1f77b4" stroke-width="1.0"/>
<circle cx="619" cy="112.5" r="2.15" fill="rgba(31,119,180,0.45)" stroke="#1f77b4" stroke-width="1.0"/>
<path d="M623 8.6L625.55 12.9L620.45 12.9Z" fill="rgba(255,127,14,0.18)" stroke="#ff7f0e" stroke-width="1.0" stroke-linejoin="round"/>
<path d="M601.7 50.5L604.25 54.8L599.15 54.8Z" fill="rgba(255,127,14,0.18)" stroke="#ff7f0e" stroke-width="1.0" stroke-linejoin="round"/>
<path d="M591.6 82.2L594.15 86.5L589.05 86.5Z" fill="rgba(255,127,14,0.18)" stroke="#ff7f0e" stroke-width="1.0" stroke-linejoin="round"/>
<path d="M521.7 104L524.25 108.3L519.15 108.3Z" fill="rgba(255,127,14,0.18)" stroke="#ff7f0e" stroke-width="1.0" stroke-linejoin="round"/>
<path d="M694.9 137.2L697.45 141.5L692.35 141.5Z" fill="rgba(255,127,14,0.18)" stroke="#ff7f0e" stroke-width="1.0" stroke-linejoin="round"/>
<path d="M653 60.8L655.55 65.1L650.45 65.1Z" fill="rgba(255,127,14,0.18)" stroke="#ff7f0e" stroke-width="1.0" stroke-linejoin="round"/>
<path d="M650.5 61.6L653.05 65.9L647.95 65.9Z" fill="rgba(255,127,14,0.4)" stroke="#ff7f0e" stroke-width="1.0" stroke-linejoin="round"/>
<path d="M631 68.2L633.55 72.5L628.45 72.5Z" fill="rgba(255,127,14,0.18)" stroke="#ff7f0e" stroke-width="1.0" stroke-linejoin="round"/>
<path d="M638 70.8L640.55 75.1L635.45 75.1Z" fill="rgba(255,127,14,0.4)" stroke="#ff7f0e" stroke-width="1.0" stroke-linejoin="round"/>
<path d="M635 74.8L637.55 79.1L632.45 79.1Z" fill="rgba(255,127,14,0.4)" stroke="#ff7f0e" stroke-width="1.0" stroke-linejoin="round"/>
<path d="M628 74.8L630.55 79.1L625.45 79.1Z" fill="rgba(255,127,14,0.18)" stroke="#ff7f0e" stroke-width="1.0" stroke-linejoin="round"/>
<path d="M646 73.8L648.55 78.1L643.45 78.1Z" fill="rgba(255,127,14,0.18)" stroke="#ff7f0e" stroke-width="1.0" stroke-linejoin="round"/>
<path d="M657 78.8L659.55 83.1L654.45 83.1Z" fill="rgba(255,127,14,0.18)" stroke="#ff7f0e" stroke-width="1.0" stroke-linejoin="round"/>
<path d="M627 80.8L629.55 85.1L624.45 85.1Z" fill="rgba(255,127,14,0.4)" stroke="#ff7f0e" stroke-width="1.0" stroke-linejoin="round"/>
<path d="M632 84.8L634.55 89.1L629.45 89.1Z" fill="rgba(255,127,14,0.4)" stroke="#ff7f0e" stroke-width="1.0" stroke-linejoin="round"/>
<path d="M622 80.8L624.55 85.1L619.45 85.1Z" fill="rgba(255,127,14,0.4)" stroke="#ff7f0e" stroke-width="1.0" stroke-linejoin="round"/>
<path d="M589 93.3L591.55 97.6L586.45 97.6Z" fill="rgba(255,127,14,0.18)" stroke="#ff7f0e" stroke-width="1.0" stroke-linejoin="round"/>
<path d="M587 107.8L589.55 112.1L584.45 112.1Z" fill="rgba(255,127,14,0.4)" stroke="#ff7f0e" stroke-width="1.0" stroke-linejoin="round"/>
<path d="M610 87.8L612.55 92.1L607.45 92.1Z" fill="rgba(255,127,14,0.18)" stroke="#ff7f0e" stroke-width="1.0" stroke-linejoin="round"/>
<path d="M618 84.8L620.55 89.1L615.45 89.1Z" fill="rgba(255,127,14,0.18)" stroke="#ff7f0e" stroke-width="1.0" stroke-linejoin="round"/>
<path d="M621 89.8L623.55 94.1L618.45 94.1Z" fill="rgba(255,127,14,0.4)" stroke="#ff7f0e" stroke-width="1.0" stroke-linejoin="round"/>
<path d="M628 77.8L630.55 82.1L625.45 82.1Z" fill="rgba(255,127,14,0.4)" stroke="#ff7f0e" stroke-width="1.0" stroke-linejoin="round"/>
<path d="M630 68.8L632.55 73.1L627.45 73.1Z" fill="rgba(255,127,14,0.4)" stroke="#ff7f0e" stroke-width="1.0" stroke-linejoin="round"/>
<path d="M637 71.8L639.55 76.1L634.45 76.1Z" fill="rgba(255,127,14,0.4)" stroke="#ff7f0e" stroke-width="1.0" stroke-linejoin="round"/>
<path d="M625 85.8L627.55 90.1L622.45 90.1Z" fill="rgba(255,127,14,0.4)" stroke="#ff7f0e" stroke-width="1.0" stroke-linejoin="round"/>
<path d="M630 91.8L632.55 96.1L627.45 96.1Z" fill="rgba(255,127,14,0.4)" stroke="#ff7f0e" stroke-width="1.0" stroke-linejoin="round"/>
<path d="M634 85.8L636.55 90.1L631.45 90.1Z" fill="rgba(255,127,14,0.4)" stroke="#ff7f0e" stroke-width="1.0" stroke-linejoin="round"/>
<path d="M605 105.8L607.55 110.1L602.45 110.1Z" fill="rgba(255,127,14,0.4)" stroke="#ff7f0e" stroke-width="1.0" stroke-linejoin="round"/>
<path d="M610 107.8L612.55 112.1L607.45 112.1Z" fill="rgba(255,127,14,0.4)" stroke="#ff7f0e" stroke-width="1.0" stroke-linejoin="round"/>
<path d="M609 111.8L611.55 116.1L606.45 116.1Z" fill="rgba(255,127,14,0.4)" stroke="#ff7f0e" stroke-width="1.0" stroke-linejoin="round"/>
<path d="M615 100.8L617.55 105.1L612.45 105.1Z" fill="rgba(255,127,14,0.4)" stroke="#ff7f0e" stroke-width="1.0" stroke-linejoin="round"/>
<path d="M647 111.3L649.55 115.6L644.45 115.6Z" fill="rgba(255,127,14,0.4)" stroke="#ff7f0e" stroke-width="1.0" stroke-linejoin="round"/>
<path d="M631 108.8L633.55 113.1L628.45 113.1Z" fill="rgba(255,127,14,0.4)" stroke="#ff7f0e" stroke-width="1.0" stroke-linejoin="round"/>
<path d="M600 113.8L602.55 118.1L597.45 118.1Z" fill="rgba(255,127,14,0.4)" stroke="#ff7f0e" stroke-width="1.0" stroke-linejoin="round"/>
<path d="M589 116.8L591.55 121.1L586.45 121.1Z" fill="rgba(255,127,14,0.4)" stroke="#ff7f0e" stroke-width="1.0" stroke-linejoin="round"/>
<path d="M608.5 83L611.05 87.3L605.95 87.3Z" fill="rgba(255,127,14,0.18)" stroke="#ff7f0e" stroke-width="1.0" stroke-linejoin="round"/>
<path d="M610.7 87.5L613.25 91.8L608.15 91.8Z" fill="rgba(255,127,14,0.18)" stroke="#ff7f0e" stroke-width="1.0" stroke-linejoin="round"/>
<path d="M626.5 80.8L629.05 85.1L623.95 85.1Z" fill="rgba(255,127,14,0.4)" stroke="#ff7f0e" stroke-width="1.0" stroke-linejoin="round"/>
<path d="M619.7 90.5L622.25 94.8L617.15 94.8Z" fill="rgba(255,127,14,0.4)" stroke="#ff7f0e" stroke-width="1.0" stroke-linejoin="round"/>
<path d="M629.5 91.3L632.05 95.6L626.95 95.6Z" fill="rgba(255,127,14,0.4)" stroke="#ff7f0e" stroke-width="1.0" stroke-linejoin="round"/>
<path d="M633.2 85.3L635.75 89.6L630.65 89.6Z" fill="rgba(255,127,14,0.4)" stroke="#ff7f0e" stroke-width="1.0" stroke-linejoin="round"/>
<path d="M635.5 94.3L638.05 98.6L632.95 98.6Z" fill="rgba(255,127,14,0.4)" stroke="#ff7f0e" stroke-width="1.0" stroke-linejoin="round"/>
<path d="M616.7 94.3L619.25 98.6L614.15 98.6Z" fill="rgba(255,127,14,0.4)" stroke="#ff7f0e" stroke-width="1.0" stroke-linejoin="round"/>
<path d="M608.7 101.8L611.25 106.1L606.15 106.1Z" fill="rgba(255,127,14,0.4)" stroke="#ff7f0e" stroke-width="1.0" stroke-linejoin="round"/>
<path d="M604.2 104L606.75 108.3L601.65 108.3Z" fill="rgba(255,127,14,0.4)" stroke="#ff7f0e" stroke-width="1.0" stroke-linejoin="round"/>
<path d="M609.5 110.8L612.05 115.1L606.95 115.1Z" fill="rgba(255,127,14,0.4)" stroke="#ff7f0e" stroke-width="1.0" stroke-linejoin="round"/>
<path d="M630.5 107L633.05 111.3L627.95 111.3Z" fill="rgba(255,127,14,0.4)" stroke="#ff7f0e" stroke-width="1.0" stroke-linejoin="round"/>
<path d="M601.2 110.8L603.75 115.1L598.65 115.1Z" fill="rgba(255,127,14,0.4)" stroke="#ff7f0e" stroke-width="1.0" stroke-linejoin="round"/>
<path d="M597.5 119.8L600.05 124.1L594.95 124.1Z" fill="rgba(255,127,14,0.4)" stroke="#ff7f0e" stroke-width="1.0" stroke-linejoin="round"/>
<path d="M604.2 122L606.75 126.3L601.65 126.3Z" fill="rgba(255,127,14,0.4)" stroke="#ff7f0e" stroke-width="1.0" stroke-linejoin="round"/>
<path d="M613.2 118.3L615.75 122.6L610.65 122.6Z" fill="rgba(255,127,14,0.4)" stroke="#ff7f0e" stroke-width="1.0" stroke-linejoin="round"/>
<path d="M608 124.3L610.55 128.6L605.45 128.6Z" fill="rgba(255,127,14,0.4)" stroke="#ff7f0e" stroke-width="1.0" stroke-linejoin="round"/>
<path d="M598.2 128.8L600.75 133.1L595.65 133.1Z" fill="rgba(255,127,14,0.4)" stroke="#ff7f0e" stroke-width="1.0" stroke-linejoin="round"/>
<path d="M620.7 132.5L623.25 136.8L618.15 136.8Z" fill="rgba(255,127,14,0.18)" stroke="#ff7f0e" stroke-width="1.0" stroke-linejoin="round"/>
<path d="M637.2 95L639.75 99.3L634.65 99.3Z" fill="rgba(255,127,14,0.4)" stroke="#ff7f0e" stroke-width="1.0" stroke-linejoin="round"/>
<path d="M620 131.5L622.55 135.8L617.45 135.8Z" fill="rgba(255,127,14,0.4)" stroke="#ff7f0e" stroke-width="1.0" stroke-linejoin="round"/>
<path d="M575.5 147.3L578.05 151.6L572.95 151.6Z" fill="rgba(255,127,14,0.4)" stroke="#ff7f0e" stroke-width="1.0" stroke-linejoin="round"/>
<path d="M586.2 131.5L588.75 135.8L583.65 135.8Z" fill="rgba(255,127,14,0.18)" stroke="#ff7f0e" stroke-width="1.0" stroke-linejoin="round"/>
<path d="M549.3 108L551.85 112.3L546.75 112.3Z" fill="rgba(255,127,14,0.18)" stroke="#ff7f0e" stroke-width="1.0" stroke-linejoin="round"/>
<path d="M564.7 121L567.25 125.3L562.15 125.3Z" fill="rgba(255,127,14,0.18)" stroke="#ff7f0e" stroke-width="1.0" stroke-linejoin="round"/>
<path d="M586.8 108.3L589.35 112.6L584.25 112.6Z" fill="rgba(255,127,14,0.4)" stroke="#ff7f0e" stroke-width="1.0" stroke-linejoin="round"/>
<path d="M559.5 135.6L562.05 139.9L556.95 139.9Z" fill="rgba(255,127,14,0.4)" stroke="#ff7f0e" stroke-width="1.0" stroke-linejoin="round"/>
<path d="M588.7 118.8L591.25 123.1L586.15 123.1Z" fill="rgba(255,127,14,0.4)" stroke="#ff7f0e" stroke-width="1.0" stroke-linejoin="round"/>
<path d="M586.5 127L589.05 131.3L583.95 131.3Z" fill="rgba(255,127,14,0.4)" stroke="#ff7f0e" stroke-width="1.0" stroke-linejoin="round"/>
<path d="M597 121.8L599.55 126.1L594.45 126.1Z" fill="rgba(255,127,14,0.4)" stroke="#ff7f0e" stroke-width="1.0" stroke-linejoin="round"/>
<path d="M585 133L587.55 137.3L582.45 137.3Z" fill="rgba(255,127,14,0.4)" stroke="#ff7f0e" stroke-width="1.0" stroke-linejoin="round"/>
<path d="M564.5 121.5L567.05 125.8L561.95 125.8Z" fill="rgba(255,127,14,0.4)" stroke="#ff7f0e" stroke-width="1.0" stroke-linejoin="round"/>
<path d="M559.5 136.5L562.05 140.8L556.95 140.8Z" fill="rgba(255,127,14,0.4)" stroke="#ff7f0e" stroke-width="1.0" stroke-linejoin="round"/>
<path d="M548 172.3L550.55 176.6L545.45 176.6Z" fill="rgba(255,127,14,0.18)" stroke="#ff7f0e" stroke-width="1.0" stroke-linejoin="round"/>
<path d="M547.5 171.3L550.05 175.6L544.95 175.6Z" fill="rgba(255,127,14,0.4)" stroke="#ff7f0e" stroke-width="1.0" stroke-linejoin="round"/>
<path d="M480.5 212.8L483.05 217.1L477.95 217.1Z" fill="rgba(255,127,14,0.4)" stroke="#ff7f0e" stroke-width="1.0" stroke-linejoin="round"/>
<path d="M607.7 82.8L610.25 87.1L605.15 87.1Z" fill="rgba(255,127,14,0.4)" stroke="#ff7f0e" stroke-width="1.0" stroke-linejoin="round"/>
<path d="M586.7 108.3L589.25 112.6L584.15 112.6Z" fill="rgba(255,127,14,0.4)" stroke="#ff7f0e" stroke-width="1.0" stroke-linejoin="round"/>
<path d="M637 69.8L639.55 74.1L634.45 74.1Z" fill="rgba(255,127,14,0.4)" stroke="#ff7f0e" stroke-width="1.0" stroke-linejoin="round"/>
<path d="M647 111L649.55 115.3L644.45 115.3Z" fill="rgba(255,127,14,0.4)" stroke="#ff7f0e" stroke-width="1.0" stroke-linejoin="round"/>
<path d="M624 83.8L626.55 88.1L621.45 88.1Z" fill="rgba(255,127,14,0.4)" stroke="#ff7f0e" stroke-width="1.0" stroke-linejoin="round"/>
<path d="M628 85.8L630.55 90.1L625.45 90.1Z" fill="rgba(255,127,14,0.4)" stroke="#ff7f0e" stroke-width="1.0" stroke-linejoin="round"/>
<path d="M632 81.8L634.55 86.1L629.45 86.1Z" fill="rgba(255,127,14,0.4)" stroke="#ff7f0e" stroke-width="1.0" stroke-linejoin="round"/>
<path d="M627 89.8L629.55 94.1L624.45 94.1Z" fill="rgba(255,127,14,0.4)" stroke="#ff7f0e" stroke-width="1.0" stroke-linejoin="round"/>
<path d="M633 88.8L635.55 93.1L630.45 93.1Z" fill="rgba(255,127,14,0.4)" stroke="#ff7f0e" stroke-width="1.0" stroke-linejoin="round"/>
<path d="M636 83.8L638.55 88.1L633.45 88.1Z" fill="rgba(255,127,14,0.4)" stroke="#ff7f0e" stroke-width="1.0" stroke-linejoin="round"/>
<path d="M622 92.8L624.55 97.1L619.45 97.1Z" fill="rgba(255,127,14,0.4)" stroke="#ff7f0e" stroke-width="1.0" stroke-linejoin="round"/>
<path d="M629 94.8L631.55 99.1L626.45 99.1Z" fill="rgba(255,127,14,0.4)" stroke="#ff7f0e" stroke-width="1.0" stroke-linejoin="round"/>
</g>
<text x="164.9" y="50.6" class="lab" fill="#ff7f0e" stroke="#ff7f0e" stroke-width="0.3" textLength="46.2" lengthAdjust="spacingAndGlyphs">V20-ID25015</text>
<text x="164.9" y="92.6" class="lab" fill="#1f77b4" stroke="#1f77b4" stroke-width="0.3" textLength="46.2" lengthAdjust="spacingAndGlyphs">V20-ID25015</text>
<text x="237.7" y="112.3" class="lab" fill="#ff7f0e" stroke="#ff7f0e" stroke-width="0.3" textLength="26" lengthAdjust="spacingAndGlyphs">Arp220</text>
<text x="237.7" y="136.6" class="lab" fill="#1f77b4" stroke="#1f77b4" stroke-width="0.3" textLength="26" lengthAdjust="spacingAndGlyphs">Arp220</text>
<text x="299" y="72.3" class="lab" fill="#ff7f0e" stroke="#ff7f0e" stroke-width="0.3" textLength="63.2" lengthAdjust="spacingAndGlyphs">COSMOS_AzTEC-3</text>
<text x="299" y="84.9" class="lab" fill="#1f77b4" stroke="#1f77b4" stroke-width="0.3" textLength="63.2" lengthAdjust="spacingAndGlyphs">COSMOS_AzTEC-3</text>
<text x="156.8" y="230.1" class="lab" fill="#1f77b4" stroke="#1f77b4" stroke-width="0.3" textLength="32.2" lengthAdjust="spacingAndGlyphs">NGC0253</text>
<text x="625.5" y="8.7" class="lab" fill="#ff7f0e" stroke="#ff7f0e" stroke-width="0.3" textLength="26.5" lengthAdjust="spacingAndGlyphs">Mrk231</text>
<text x="604.2" y="50.6" class="lab" fill="#ff7f0e" stroke="#ff7f0e" stroke-width="0.3" textLength="27.5" lengthAdjust="spacingAndGlyphs">HDF242</text>
<text x="594.4" y="54.5" class="lab" fill="#1f77b4" stroke="#1f77b4" stroke-width="0.3" textLength="22.6" lengthAdjust="spacingAndGlyphs">HFLS3</text>
<text x="594.4" y="83" class="lab" fill="#ff7f0e" stroke="#ff7f0e" stroke-width="0.3" textLength="22.6" lengthAdjust="spacingAndGlyphs">HFLS3</text>
<text x="524.5" y="105" class="lab" fill="#ff7f0e" stroke="#ff7f0e" stroke-width="0.3" textLength="63.5" lengthAdjust="spacingAndGlyphs">IRASF18293-3413</text>
<text x="604" y="100.3" class="lab" fill="#1f77b4" stroke="#1f77b4" stroke-width="0.3" textLength="27.5" lengthAdjust="spacingAndGlyphs">HDF242</text>
<text x="626.6" y="103.8" class="lab" fill="#1f77b4" stroke="#1f77b4" stroke-width="0.3" textLength="26.5" lengthAdjust="spacingAndGlyphs">Mrk231</text>
<text x="524.5" y="145.2" class="lab" fill="#1f77b4" stroke="#1f77b4" stroke-width="0.3" textLength="63.5" lengthAdjust="spacingAndGlyphs">IRASF18293-3413</text>
<text x="697.9" y="137.9" class="lab" fill="#ff7f0e" stroke="#ff7f0e" stroke-width="0.3" textLength="57.6" lengthAdjust="spacingAndGlyphs">MCG+12-02-001</text>
<text x="697.9" y="186.1" class="lab" fill="#1f77b4" stroke="#1f77b4" stroke-width="0.3" textLength="57.6" lengthAdjust="spacingAndGlyphs">MCG+12-02-001</text>
<text x="651.4" y="189.7" class="lab" fill="#1f77b4" stroke="#1f77b4" stroke-width="0.3" textLength="18.3" lengthAdjust="spacingAndGlyphs">CenA</text>
<text x="551.6" y="215" class="lab" fill="#1f77b4" stroke="#1f77b4" stroke-width="0.3" textLength="32.8" lengthAdjust="spacingAndGlyphs">NGC0891</text>
<path d="M68.51 257.75v-3.8M68.51 0.45v3.8M120.93 257.75v-3.8M120.93 0.45v3.8M173.35 257.75v-3.8M173.35 0.45v3.8M225.77 257.75v-3.8M225.77 0.45v3.8M278.19 257.75v-3.8M278.19 0.45v3.8M330.61 257.75v-3.8M330.61 0.45v3.8M42.3 237h3.8M367.3 237h-3.8M42.3 195.5h3.8M367.3 195.5h-3.8M42.3 154h3.8M367.3 154h-3.8M42.3 112.5h3.8M367.3 112.5h-3.8M42.3 71h3.8M367.3 71h-3.8M42.3 29.5h3.8M367.3 29.5h-3.8" stroke="#000" stroke-width="1" fill="none"/>
<path d="M42.3 257.75v-2.3M42.3 0.45v2.3M47.54 257.75v-2.3M47.54 0.45v2.3M52.78 257.75v-2.3M52.78 0.45v2.3M58.03 257.75v-2.3M58.03 0.45v2.3M63.27 257.75v-2.3M63.27 0.45v2.3M73.75 257.75v-2.3M73.75 0.45v2.3M78.99 257.75v-2.3M78.99 0.45v2.3M84.24 257.75v-2.3M84.24 0.45v2.3M89.48 257.75v-2.3M89.48 0.45v2.3M94.72 257.75v-2.3M94.72 0.45v2.3M99.96 257.75v-2.3M99.96 0.45v2.3M105.2 257.75v-2.3M105.2 0.45v2.3M110.45 257.75v-2.3M110.45 0.45v2.3M115.69 257.75v-2.3M115.69 0.45v2.3M126.17 257.75v-2.3M126.17 0.45v2.3M131.41 257.75v-2.3M131.41 0.45v2.3M136.65 257.75v-2.3M136.65 0.45v2.3M141.9 257.75v-2.3M141.9 0.45v2.3M147.14 257.75v-2.3M147.14 0.45v2.3M152.38 257.75v-2.3M152.38 0.45v2.3M157.62 257.75v-2.3M157.62 0.45v2.3M162.86 257.75v-2.3M162.86 0.45v2.3M168.11 257.75v-2.3M168.11 0.45v2.3M178.59 257.75v-2.3M178.59 0.45v2.3M183.83 257.75v-2.3M183.83 0.45v2.3M189.07 257.75v-2.3M189.07 0.45v2.3M194.32 257.75v-2.3M194.32 0.45v2.3M199.56 257.75v-2.3M199.56 0.45v2.3M204.8 257.75v-2.3M204.8 0.45v2.3M210.04 257.75v-2.3M210.04 0.45v2.3M215.28 257.75v-2.3M215.28 0.45v2.3M220.53 257.75v-2.3M220.53 0.45v2.3M231.01 257.75v-2.3M231.01 0.45v2.3M236.25 257.75v-2.3M236.25 0.45v2.3M241.49 257.75v-2.3M241.49 0.45v2.3M246.74 257.75v-2.3M246.74 0.45v2.3M251.98 257.75v-2.3M251.98 0.45v2.3M257.22 257.75v-2.3M257.22 0.45v2.3M262.46 257.75v-2.3M262.46 0.45v2.3M267.7 257.75v-2.3M267.7 0.45v2.3M272.95 257.75v-2.3M272.95 0.45v2.3M283.43 257.75v-2.3M283.43 0.45v2.3M288.67 257.75v-2.3M288.67 0.45v2.3M293.91 257.75v-2.3M293.91 0.45v2.3M299.15 257.75v-2.3M299.15 0.45v2.3M304.4 257.75v-2.3M304.4 0.45v2.3M309.64 257.75v-2.3M309.64 0.45v2.3M314.88 257.75v-2.3M314.88 0.45v2.3M320.12 257.75v-2.3M320.12 0.45v2.3M325.36 257.75v-2.3M325.36 0.45v2.3M335.85 257.75v-2.3M335.85 0.45v2.3M341.09 257.75v-2.3M341.09 0.45v2.3M346.33 257.75v-2.3M346.33 0.45v2.3M351.57 257.75v-2.3M351.57 0.45v2.3M356.82 257.75v-2.3M356.82 0.45v2.3M362.06 257.75v-2.3M362.06 0.45v2.3M367.3 257.75v-2.3M367.3 0.45v2.3M42.3 257.75h2.3M367.3 257.75h-2.3M42.3 253.6h2.3M367.3 253.6h-2.3M42.3 249.45h2.3M367.3 249.45h-2.3M42.3 245.3h2.3M367.3 245.3h-2.3M42.3 241.15h2.3M367.3 241.15h-2.3M42.3 232.85h2.3M367.3 232.85h-2.3M42.3 228.7h2.3M367.3 228.7h-2.3M42.3 224.55h2.3M367.3 224.55h-2.3M42.3 220.4h2.3M367.3 220.4h-2.3M42.3 216.25h2.3M367.3 216.25h-2.3M42.3 212.1h2.3M367.3 212.1h-2.3M42.3 207.95h2.3M367.3 207.95h-2.3M42.3 203.8h2.3M367.3 203.8h-2.3M42.3 199.65h2.3M367.3 199.65h-2.3M42.3 191.35h2.3M367.3 191.35h-2.3M42.3 187.2h2.3M367.3 187.2h-2.3M42.3 183.05h2.3M367.3 183.05h-2.3M42.3 178.9h2.3M367.3 178.9h-2.3M42.3 174.75h2.3M367.3 174.75h-2.3M42.3 170.6h2.3M367.3 170.6h-2.3M42.3 166.45h2.3M367.3 166.45h-2.3M42.3 162.3h2.3M367.3 162.3h-2.3M42.3 158.15h2.3M367.3 158.15h-2.3M42.3 149.85h2.3M367.3 149.85h-2.3M42.3 145.7h2.3M367.3 145.7h-2.3M42.3 141.55h2.3M367.3 141.55h-2.3M42.3 137.4h2.3M367.3 137.4h-2.3M42.3 133.25h2.3M367.3 133.25h-2.3M42.3 129.1h2.3M367.3 129.1h-2.3M42.3 124.95h2.3M367.3 124.95h-2.3M42.3 120.8h2.3M367.3 120.8h-2.3M42.3 116.65h2.3M367.3 116.65h-2.3M42.3 108.35h2.3M367.3 108.35h-2.3M42.3 104.2h2.3M367.3 104.2h-2.3M42.3 100.05h2.3M367.3 100.05h-2.3M42.3 95.9h2.3M367.3 95.9h-2.3M42.3 91.75h2.3M367.3 91.75h-2.3M42.3 87.6h2.3M367.3 87.6h-2.3M42.3 83.45h2.3M367.3 83.45h-2.3M42.3 79.3h2.3M367.3 79.3h-2.3M42.3 75.15h2.3M367.3 75.15h-2.3M42.3 66.85h2.3M367.3 66.85h-2.3M42.3 62.7h2.3M367.3 62.7h-2.3M42.3 58.55h2.3M367.3 58.55h-2.3M42.3 54.4h2.3M367.3 54.4h-2.3M42.3 50.25h2.3M367.3 50.25h-2.3M42.3 46.1h2.3M367.3 46.1h-2.3M42.3 41.95h2.3M367.3 41.95h-2.3M42.3 37.8h2.3M367.3 37.8h-2.3M42.3 33.65h2.3M367.3 33.65h-2.3M42.3 25.35h2.3M367.3 25.35h-2.3M42.3 21.2h2.3M367.3 21.2h-2.3M42.3 17.05h2.3M367.3 17.05h-2.3M42.3 12.9h2.3M367.3 12.9h-2.3M42.3 8.75h2.3M367.3 8.75h-2.3M42.3 4.6h2.3M367.3 4.6h-2.3M42.3 0.45h2.3M367.3 0.45h-2.3" stroke="#000" stroke-width="0.8" fill="none"/>
<rect x="42.3" y="0.45" width="325" height="257.3" stroke="#000" stroke-width="1.3" fill="none"/>
<text x="68.51" y="270.15" text-anchor="middle" class="tl">9</text>
<text x="120.93" y="270.15" text-anchor="middle" class="tl">10</text>
<text x="173.35" y="270.15" text-anchor="middle" class="tl">11</text>
<text x="225.77" y="270.15" text-anchor="middle" class="tl">12</text>
<text x="278.19" y="270.15" text-anchor="middle" class="tl">13</text>
<text x="330.61" y="270.15" text-anchor="middle" class="tl">14</text>
<text x="37.8" y="241.6" text-anchor="end" class="tl">9</text>
<text x="37.8" y="200.1" text-anchor="end" class="tl">10</text>
<text x="37.8" y="158.6" text-anchor="end" class="tl">11</text>
<text x="37.8" y="117.1" text-anchor="end" class="tl">12</text>
<text x="37.8" y="75.6" text-anchor="end" class="tl">13</text>
<text x="37.8" y="34.1" text-anchor="end" class="tl">14</text>
<path d="M473.38 257.7v-3.8M473.38 0.6v3.8M550.74 257.7v-3.8M550.74 0.6v3.8M628.09 257.7v-3.8M628.09 0.6v3.8M705.45 257.7v-3.8M705.45 0.6v3.8M434.7 227.09h3.8M759.6 227.09h-3.8M434.7 165.88h3.8M759.6 165.88h-3.8M434.7 104.66h3.8M759.6 104.66h-3.8M434.7 43.45h3.8M759.6 43.45h-3.8" stroke="#000" stroke-width="1" fill="none"/>
<path d="M434.7 257.7v-2.3M434.7 0.6v2.3M442.44 257.7v-2.3M442.44 0.6v2.3M450.17 257.7v-2.3M450.17 0.6v2.3M457.91 257.7v-2.3M457.91 0.6v2.3M465.64 257.7v-2.3M465.64 0.6v2.3M481.11 257.7v-2.3M481.11 0.6v2.3M488.85 257.7v-2.3M488.85 0.6v2.3M496.59 257.7v-2.3M496.59 0.6v2.3M504.32 257.7v-2.3M504.32 0.6v2.3M512.06 257.7v-2.3M512.06 0.6v2.3M519.79 257.7v-2.3M519.79 0.6v2.3M527.53 257.7v-2.3M527.53 0.6v2.3M535.26 257.7v-2.3M535.26 0.6v2.3M543 257.7v-2.3M543 0.6v2.3M558.47 257.7v-2.3M558.47 0.6v2.3M566.21 257.7v-2.3M566.21 0.6v2.3M573.94 257.7v-2.3M573.94 0.6v2.3M581.68 257.7v-2.3M581.68 0.6v2.3M589.41 257.7v-2.3M589.41 0.6v2.3M597.15 257.7v-2.3M597.15 0.6v2.3M604.89 257.7v-2.3M604.89 0.6v2.3M612.62 257.7v-2.3M612.62 0.6v2.3M620.36 257.7v-2.3M620.36 0.6v2.3M635.83 257.7v-2.3M635.83 0.6v2.3M643.56 257.7v-2.3M643.56 0.6v2.3M651.3 257.7v-2.3M651.3 0.6v2.3M659.04 257.7v-2.3M659.04 0.6v2.3M666.77 257.7v-2.3M666.77 0.6v2.3M674.51 257.7v-2.3M674.51 0.6v2.3M682.24 257.7v-2.3M682.24 0.6v2.3M689.98 257.7v-2.3M689.98 0.6v2.3M697.71 257.7v-2.3M697.71 0.6v2.3M713.19 257.7v-2.3M713.19 0.6v2.3M720.92 257.7v-2.3M720.92 0.6v2.3M728.66 257.7v-2.3M728.66 0.6v2.3M736.39 257.7v-2.3M736.39 0.6v2.3M744.13 257.7v-2.3M744.13 0.6v2.3M751.86 257.7v-2.3M751.86 0.6v2.3M759.6 257.7v-2.3M759.6 0.6v2.3M434.7 257.7h2.3M759.6 257.7h-2.3M434.7 251.58h2.3M759.6 251.58h-2.3M434.7 245.46h2.3M759.6 245.46h-2.3M434.7 239.34h2.3M759.6 239.34h-2.3M434.7 233.21h2.3M759.6 233.21h-2.3M434.7 220.97h2.3M759.6 220.97h-2.3M434.7 214.85h2.3M759.6 214.85h-2.3M434.7 208.73h2.3M759.6 208.73h-2.3M434.7 202.61h2.3M759.6 202.61h-2.3M434.7 196.49h2.3M759.6 196.49h-2.3M434.7 190.36h2.3M759.6 190.36h-2.3M434.7 184.24h2.3M759.6 184.24h-2.3M434.7 178.12h2.3M759.6 178.12h-2.3M434.7 172h2.3M759.6 172h-2.3M434.7 159.76h2.3M759.6 159.76h-2.3M434.7 153.64h2.3M759.6 153.64h-2.3M434.7 147.51h2.3M759.6 147.51h-2.3M434.7 141.39h2.3M759.6 141.39h-2.3M434.7 135.27h2.3M759.6 135.27h-2.3M434.7 129.15h2.3M759.6 129.15h-2.3M434.7 123.03h2.3M759.6 123.03h-2.3M434.7 116.91h2.3M759.6 116.91h-2.3M434.7 110.79h2.3M759.6 110.79h-2.3M434.7 98.54h2.3M759.6 98.54h-2.3M434.7 92.42h2.3M759.6 92.42h-2.3M434.7 86.3h2.3M759.6 86.3h-2.3M434.7 80.18h2.3M759.6 80.18h-2.3M434.7 74.06h2.3M759.6 74.06h-2.3M434.7 67.94h2.3M759.6 67.94h-2.3M434.7 61.81h2.3M759.6 61.81h-2.3M434.7 55.69h2.3M759.6 55.69h-2.3M434.7 49.57h2.3M759.6 49.57h-2.3M434.7 37.33h2.3M759.6 37.33h-2.3M434.7 31.21h2.3M759.6 31.21h-2.3M434.7 25.09h2.3M759.6 25.09h-2.3M434.7 18.96h2.3M759.6 18.96h-2.3M434.7 12.84h2.3M759.6 12.84h-2.3M434.7 6.72h2.3M759.6 6.72h-2.3M434.7 0.6h2.3M759.6 0.6h-2.3" stroke="#000" stroke-width="0.8" fill="none"/>
<rect x="434.7" y="0.6" width="324.9" height="257.1" stroke="#000" stroke-width="1.3" fill="none"/>
<text x="473.38" y="270.1" text-anchor="middle" class="tl">9</text>
<text x="550.74" y="270.1" text-anchor="middle" class="tl">10</text>
<text x="628.09" y="270.1" text-anchor="middle" class="tl">11</text>
<text x="705.45" y="270.1" text-anchor="middle" class="tl">12</text>
<text x="430.2" y="231.69" text-anchor="end" class="tl">9</text>
<text x="430.2" y="170.48" text-anchor="end" class="tl">10</text>
<text x="430.2" y="109.26" text-anchor="end" class="tl">11</text>
<text x="430.2" y="48.05" text-anchor="end" class="tl">12</text>
<path d="M54.35 12.5H66.35M54.5 10.2v4.1M66.5 10.2v4.1M60.5 6.25V18.25M58.3 6.5h4.1M58.3 18.5h4.1" stroke="#8fbbd9" stroke-width="1" fill="none"/>
<circle cx="60.35" cy="12.25" r="2.15" fill="rgba(31,119,180,0.18)" stroke="#1f77b4" stroke-width="1.0"/>
<path d="M54.35 27.5H66.35M54.5 24.95v4.1M66.5 24.95v4.1M60.5 21V33M58.3 21.5h4.1M58.3 33.5h4.1" stroke="#ffbf86" stroke-width="1" fill="none"/>
<path d="M60.35 24.8L62.9 29.1L57.8 29.1Z" fill="rgba(255,127,14,0.18)" stroke="#ff7f0e" stroke-width="1.0" stroke-linejoin="round"/>
<path d="M49.35 41.7h21" stroke="#333" stroke-width="1.25" stroke-dasharray="4.1 1.75"/>
<text x="81.05" y="16.3" class="lg" textLength="103" lengthAdjust="spacingAndGlyphs">CIGALE vs. MICHI2</text>
<text x="81.05" y="31.1" class="lg" textLength="118" lengthAdjust="spacingAndGlyphs">MAGPHYS vs. MICHI2</text>
<text x="81.05" y="45.8" class="lg" textLength="16.8" lengthAdjust="spacingAndGlyphs">1:1</text>
<path d="M446.7 12.5H458.7M446.5 10.2v4.1M458.5 10.2v4.1M452.5 6.25V18.25M450.65 6.5h4.1M450.65 18.5h4.1" stroke="#8fbbd9" stroke-width="1" fill="none"/>
<circle cx="452.7" cy="12.25" r="2.15" fill="rgba(31,119,180,0.18)" stroke="#1f77b4" stroke-width="1.0"/>
<path d="M446.7 27.5H458.7M446.5 24.95v4.1M458.5 24.95v4.1M452.5 21V33M450.65 21.5h4.1M450.65 33.5h4.1" stroke="#ffbf86" stroke-width="1" fill="none"/>
<path d="M452.7 24.8L455.25 29.1L450.15 29.1Z" fill="rgba(255,127,14,0.18)" stroke="#ff7f0e" stroke-width="1.0" stroke-linejoin="round"/>
<path d="M441.7 41.7h21" stroke="#333" stroke-width="1.25" stroke-dasharray="4.1 1.75"/>
<text x="473.4" y="16.3" class="lg" textLength="103" lengthAdjust="spacingAndGlyphs">CIGALE vs. MICHI2</text>
<text x="473.4" y="31.1" class="lg" textLength="118" lengthAdjust="spacingAndGlyphs">MAGPHYS vs. MICHI2</text>
<text x="473.4" y="45.8" class="lg" textLength="16.8" lengthAdjust="spacingAndGlyphs">1:1</text>
<text class="ax" x="133.3" y="292.8" textLength="19" lengthAdjust="spacingAndGlyphs" >log</text>
<text class="ax" x="154.7" y="295.3" textLength="10.6" lengthAdjust="spacingAndGlyphs" style="font-size:10.5px;" >10</text>
<text class="ax" x="172.2" y="292.8" >(</text>
<text class="ax" x="176.7" y="292.8" textLength="6.4" lengthAdjust="spacingAndGlyphs" style="font-style:italic;" >L</text>
<text class="ax" x="184.6" y="295.3" textLength="8.9" lengthAdjust="spacingAndGlyphs" style="font-size:10.5px;" >IR</text>
<text class="ax" x="194" y="292.8" textLength="5" lengthAdjust="spacingAndGlyphs" >/</text>
<text class="ax" x="200.2" y="292.8" textLength="7" lengthAdjust="spacingAndGlyphs" >L</text>
<circle cx="211.2" cy="292.6" r="2.6" fill="none" stroke="#000" stroke-width="0.85"/><circle cx="211.2" cy="292.6" r="0.75" fill="#000"/>
<text class="ax" x="216.6" y="292.8" >)</text>
<text class="ax" x="228.9" y="292.8" textLength="47.1" lengthAdjust="spacingAndGlyphs" >MICHI2</text>
<text class="ax" x="522.6" y="292.8" textLength="19.8" lengthAdjust="spacingAndGlyphs" >log</text>
<text class="ax" x="544.3" y="295.3" textLength="11" lengthAdjust="spacingAndGlyphs" style="font-size:10.5px;" >10</text>
<text class="ax" x="561.7" y="292.8" >(</text>
<text class="ax" x="565.6" y="292.8" textLength="12.4" lengthAdjust="spacingAndGlyphs" style="font-style:italic;" >M</text>
<circle cx="581" cy="292.2" r="1.2" fill="#000"/>
<text class="ax" x="583.9" y="292.8" textLength="5.2" lengthAdjust="spacingAndGlyphs" >/</text>
<text class="ax" x="590.6" y="292.8" textLength="9.8" lengthAdjust="spacingAndGlyphs" >M</text>
<circle cx="605.8" cy="292.5" r="2.75" fill="none" stroke="#000" stroke-width="0.85"/><circle cx="605.8" cy="292.5" r="0.75" fill="#000"/>
<text class="ax" x="611.2" y="292.8" >)</text>
<text class="ax" x="623.4" y="292.8" textLength="46.9" lengthAdjust="spacingAndGlyphs" >MICHI2</text>
<g transform="rotate(-90)">
<text class="ax" x="-248.3" y="10.5" textLength="19" lengthAdjust="spacingAndGlyphs" >log</text>
<text class="ax" x="-226.9" y="13" textLength="10.6" lengthAdjust="spacingAndGlyphs" style="font-size:10.5px;" >10</text>
<text class="ax" x="-209.4" y="10.5" >(</text>
<text class="ax" x="-204.9" y="10.5" textLength="6.4" lengthAdjust="spacingAndGlyphs" style="font-style:italic;" >L</text>
<text class="ax" x="-197" y="13" textLength="8.9" lengthAdjust="spacingAndGlyphs" style="font-size:10.5px;" >IR</text>
<text class="ax" x="-187.6" y="10.5" textLength="5" lengthAdjust="spacingAndGlyphs" >/</text>
<text class="ax" x="-181.4" y="10.5" textLength="7" lengthAdjust="spacingAndGlyphs" >L</text>
<circle cx="-170.4" cy="10.3" r="2.6" fill="none" stroke="#000" stroke-width="0.85"/><circle cx="-170.4" cy="10.3" r="0.75" fill="#000"/>
<text class="ax" x="-165" y="10.5" >)</text>
<text class="ax" x="-152.7" y="10.5" textLength="141.6" lengthAdjust="spacingAndGlyphs" >CIGALE or MAGPHYS</text>
</g>
<g transform="rotate(-90)">
<text class="ax" x="-251" y="403.6" textLength="19.8" lengthAdjust="spacingAndGlyphs" >log</text>
<text class="ax" x="-229.3" y="406.1" textLength="11" lengthAdjust="spacingAndGlyphs" style="font-size:10.5px;" >10</text>
<text class="ax" x="-211.9" y="403.6" >(</text>
<text class="ax" x="-208" y="403.6" textLength="12.4" lengthAdjust="spacingAndGlyphs" style="font-style:italic;" >M</text>
<circle cx="-192.6" cy="403" r="1.2" fill="#000"/>
<text class="ax" x="-189.7" y="403.6" textLength="5.2" lengthAdjust="spacingAndGlyphs" >/</text>
<text class="ax" x="-183" y="403.6" textLength="9.8" lengthAdjust="spacingAndGlyphs" >M</text>
<circle cx="-167.8" cy="403.3" r="2.75" fill="none" stroke="#000" stroke-width="0.85"/><circle cx="-167.8" cy="403.3" r="0.75" fill="#000"/>
<text class="ax" x="-162.4" y="403.6" >)</text>
<text class="ax" x="-150.2" y="403.6" textLength="142.2" lengthAdjust="spacingAndGlyphs" >CIGALE or MAGPHYS</text>
</g>
</svg></body></html>
